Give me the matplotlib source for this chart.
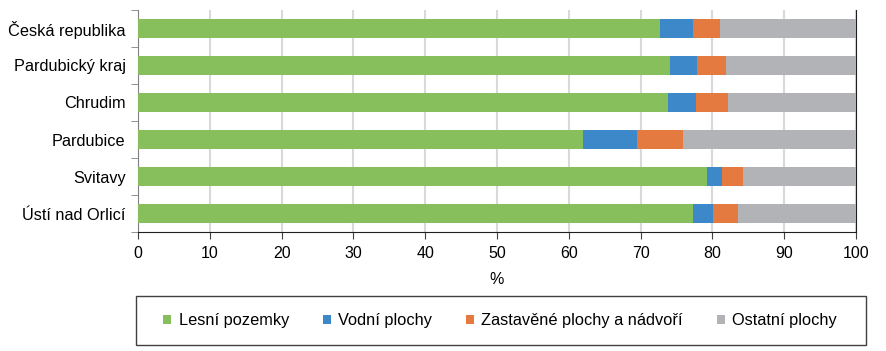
import matplotlib
matplotlib.use("Agg")
import matplotlib.pyplot as plt
from matplotlib.patches import Rectangle
import numpy as np

plt.rcParams['font.family'] = ['Liberation Sans', 'DejaVu Sans']

categories = ["Česká republika", "Pardubický kraj", "Chrudim", "Pardubice", "Svitavy", "Ústí nad Orlicí"]
series_names = ["Lesní pozemky", "Vodní plochy", "Zastavěné plochy a nádvoří", "Ostatní plochy"]
lesni = [72.7, 74.1, 73.8, 62.0, 79.2, 77.3]
vodni = [4.6, 3.8, 3.9, 7.5, 2.1, 2.8]
zastavene = [3.7, 4.0, 4.5, 6.4, 3.0, 3.5]
ostatni = [19.0, 18.1, 17.8, 24.1, 15.7, 16.4]
colors = ["#87BF5D", "#3D88C8", "#E47A40", "#B1B3B7"]
xticks = [0, 10, 20, 30, 40, 50, 60, 70, 80, 90, 100]

W, H = 886, 351
fig = plt.figure(figsize=(W / 100, H / 100), dpi=100)
ax = fig.add_axes([138 / W, 1 - 232 / H, (856 - 138) / W, (232 - 10) / H])

y = np.arange(len(categories))
left = np.zeros(len(categories))
handles = []
for vals, name, c in zip([lesni, vodni, zastavene, ostatni], series_names, colors):
    b = ax.barh(y, vals, left=left, height=0.5, color=c, label=name, zorder=3)
    handles.append(b)
    left = left + np.array(vals)

ax.set_xlim(0, 100)
ax.set_ylim(len(categories) - 0.5, -0.5)
ax.set_xticks(xticks)
ax.set_xticklabels([str(t) for t in xticks], fontsize=11.5)
ax.set_yticks(y)
ax.set_yticklabels(categories, fontsize=11.7)
ax.set_yticks(np.arange(-0.5, len(categories), 1), minor=True)
ax.tick_params(axis='y', which='major', length=0, pad=9)
ax.tick_params(axis='y', which='minor', length=5, color='#808080', direction='out')
ax.tick_params(axis='x', which='major', length=5, color='#404040', direction='out', pad=5)
ax.grid(axis='x', color='#D9D9D9', linewidth=1.5, zorder=0)
ax.set_axisbelow(True)
ax.spines['top'].set_visible(False)
ax.spines['left'].set_color('#808080')
ax.spines['bottom'].set_color('#202020')
ax.spines['right'].set_color('#202020')
ax.set_xlabel('%', fontsize=11.5, labelpad=8)

# legend frame
fig.patches.append(Rectangle((136 / W, 1 - 345 / H), (866 - 136) / W, (345 - 296) / H,
                             transform=fig.transFigure, fill=False, edgecolor='#404040',
                             linewidth=1.0))
fig.legend(handles=handles, labels=series_names, loc='center',
           bbox_to_anchor=(500 / W, 1 - 321 / H), ncol=4, frameon=False,
           fontsize=11.8, handlelength=0.5, handleheight=0.5, handletextpad=0.45,
           columnspacing=2.05)

fig.savefig('out.png', dpi=100)
